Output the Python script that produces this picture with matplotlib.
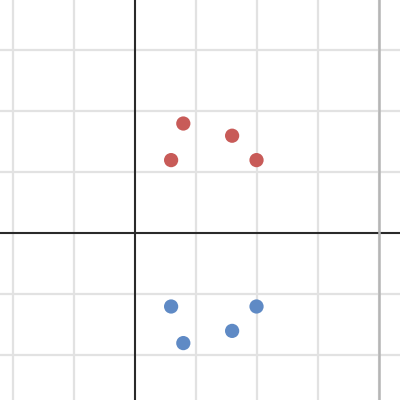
"""
Scatter points on a Desmos-style grid
"""
import matplotlib
matplotlib.use('Agg')
import matplotlib.pyplot as plt
import numpy as np

# data
red_x = [0.8, 1.6, 0.6, 2.0]
red_y = [1.8, 1.6, 1.2, 1.2]
blue_x = [0.6, 2.0, 1.6, 0.8]
blue_y = [-1.2, -1.2, -1.6, -1.8]
boundary_x = 4.0

fig = plt.figure(figsize=(4, 4), dpi=100)
ax = fig.add_axes([0, 0, 1, 1])

ax.set_xlim(-2.205, 4.352)
ax.set_ylim(-2.733, 3.825)

# grid
for gx in np.arange(-2, 5, 1):
    if gx != 0:
        ax.axvline(gx, color='#e2e2e2', linewidth=1.6, zorder=1)
for gy in np.arange(-2, 4, 1):
    if gy != 0:
        ax.axhline(gy, color='#e2e2e2', linewidth=1.6, zorder=1)

# axes
ax.axhline(0, color='#2a2a2a', linewidth=1.5, zorder=2)
ax.axvline(0, color='#2a2a2a', linewidth=1.5, zorder=2)

# vertical line
ax.axvline(boundary_x, color='#b5b5b5', linewidth=1.8, zorder=2)

# points
ax.scatter(red_x, red_y, s=105, color='#c85b58', edgecolors='none', zorder=5)
ax.scatter(blue_x, blue_y, s=105, color='#5f8ac5', edgecolors='none', zorder=5)

ax.set_xticks([])
ax.set_yticks([])
for spine in ax.spines.values():
    spine.set_visible(False)

fig.savefig('out.png', dpi=100)
